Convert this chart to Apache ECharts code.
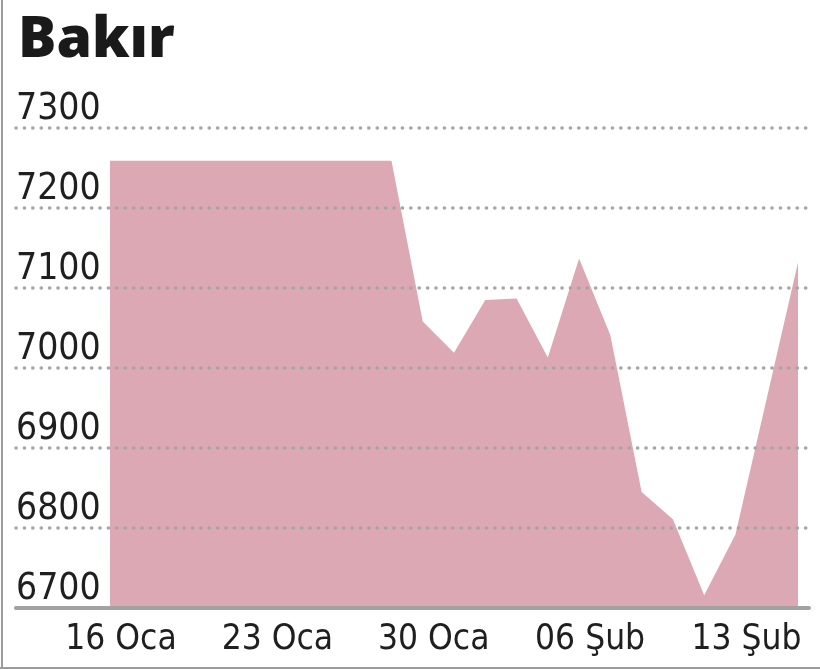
<!DOCTYPE html>
<html>
<head>
<meta charset="utf-8">
<script src="https://cdn.jsdelivr.net/npm/echarts@6/dist/echarts.min.js"></script>
<style>
html,body{margin:0;padding:0;background:#fff;}
#c{width:820px;height:670px;}
</style>
</head>
<body>
<div id="c"></div>
<script>
// Data
var categories = ['16 Oca','17 Oca','18 Oca','19 Oca','22 Oca','23 Oca','24 Oca','25 Oca','26 Oca','29 Oca',
  '30 Oca','31 Oca','01 Şub','02 Şub','05 Şub','06 Şub','07 Şub','08 Şub','09 Şub','12 Şub','13 Şub','14 Şub','15 Şub'];
var prices = [7259,7259,7259,7259,7259,7259,7259,7259,7259,7259,
  7058,7019,7085,7087,7013,7137,7041,6845,6811,6716,6792,6962,7132];
var yTicks = [6700, 6800, 6900, 7000, 7100, 7200, 7300];
var title = 'Bakır';

var FONT = "'Liberation Sans Narrow','DejaVu Sans Condensed',sans-serif";
var chart = echarts.init(document.getElementById('c'), null, {renderer:'canvas'});
var yMin = yTicks[0], yMax = yTicks[yTicks.length-1], yStep = yTicks[1]-yTicks[0];

chart.setOption({
  backgroundColor: '#fff',
  animation: false,
  title: {
    text: title, left: 13, top: 7,
    textStyle: {fontFamily: "'Open Sans',sans-serif", fontWeight: 800, fontSize: 57, color: '#1a1a1a', letterSpacing: -0.5}
  },
  graphic: [
    {type:'line', shape:{x1:2, y1:0, x2:2, y2:668}, style:{stroke:'#9c9c9c', lineWidth:2}, z:10},
    {type:'line', shape:{x1:0, y1:668, x2:820, y2:668}, style:{stroke:'#9c9c9c', lineWidth:2}, z:10}
  ],
  grid: [
    {left: 16, right: 11, top: 128, bottom: 62},
    {left: 110, right: 22, top: 128, bottom: 62}
  ],
  xAxis: [
    {type:'value', gridIndex:0, min:0, max:1, z:3,
     axisLine:{show:true, lineStyle:{color:'#a2a2a2', width:4}},
     axisTick:{show:false}, axisLabel:{show:false}, splitLine:{show:false}},
    {type:'category', gridIndex:1, data: categories, boundaryGap:false,
     axisLine:{show:false}, axisTick:{show:false}, splitLine:{show:false},
     axisLabel:{interval:4, margin:14, padding:[0,0,0,22], fontFamily:FONT, fontSize:35, color:'#1f1f1f'}}
  ],
  yAxis: [
    {type:'value', gridIndex:0, min:yMin, max:yMax, interval:yStep, z:3,
     axisLine:{show:false}, axisTick:{show:false},
     axisLabel:{inside:true, margin:0, verticalAlign:'bottom', lineHeight:36, padding:[0,0,1,0],
       fontFamily:FONT, fontSize:37, color:'#1f1f1f', formatter: function(v){ return String(v); }},
     splitLine:{show:true, lineStyle:{color:'#a5a5a5', width:3.6, type:[0.1,8.3], cap:'round'}}},
    {type:'value', gridIndex:1, min:yMin, max:yMax, interval:yStep, show:false}
  ],
  series: [{
    type:'line', xAxisIndex:1, yAxisIndex:1, data: prices,
    symbol:'none', lineStyle:{width:0}, areaStyle:{color:'#dba8b3', opacity:1}, z:2
  }]
});
</script>
</body>
</html>
